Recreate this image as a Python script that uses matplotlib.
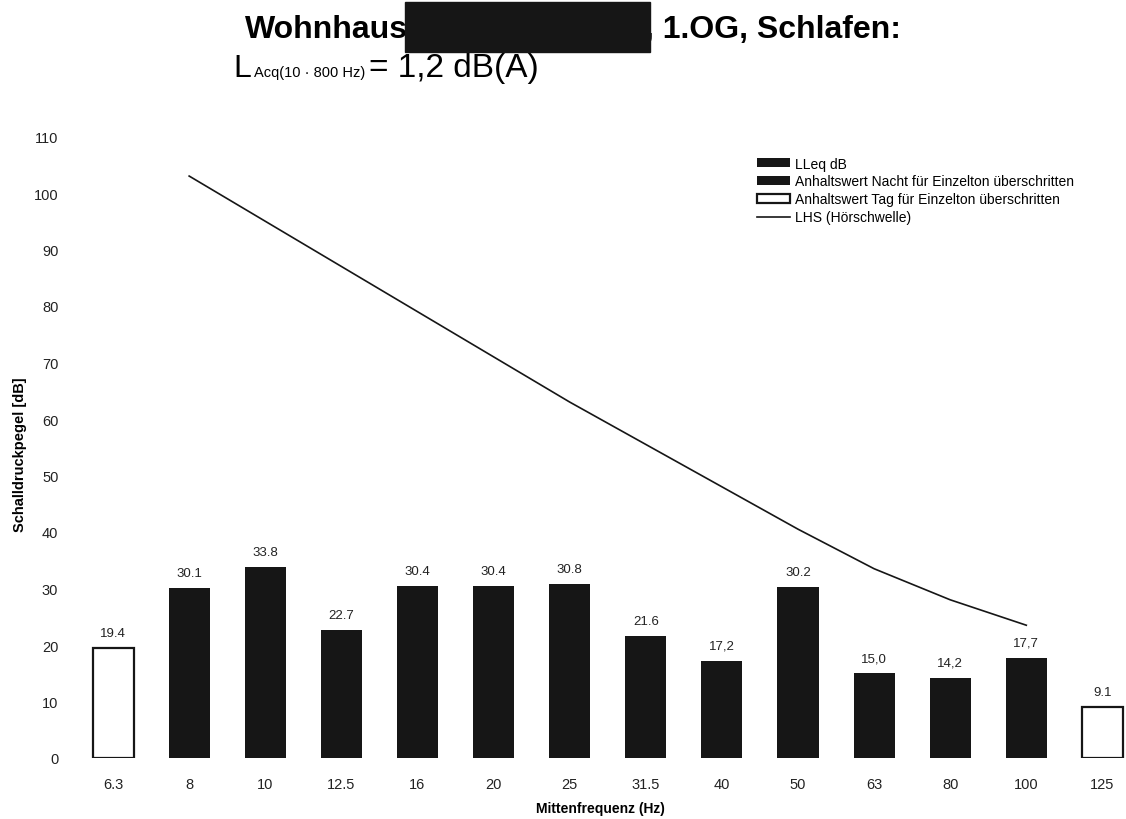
import numpy as np
import matplotlib
matplotlib.use("Agg")
import matplotlib.pyplot as plt
from matplotlib.patches import Rectangle

plt.rcParams["font.family"] = ["Liberation Sans", "DejaVu Sans"]

# data
freqs = ["6.3", "8", "10", "12.5", "16", "20", "25", "31.5", "40", "50", "63", "80", "100", "125"]
lleq = [19.4, 30.1, 33.8, 22.7, 30.4, 30.4, 30.8, 21.6, 17.2, 30.2, 15.0, 14.2, 17.7, 9.1]
bar_text = ["19.4", "30.1", "33.8", "22.7", "30.4", "30.4", "30.8", "21.6", "17,2", "30.2",
            "15,0", "14,2", "17,7", "9.1"]
# which bars exceed the night / day limit
nacht = [False, True, True, True, True, True, True, True, True, True, True, True, True, False]
tag = [True, False, False, False, False, False, False, False, False, False, False, False, False, True]
# hearing threshold LHS, 8 Hz .. 100 Hz
lhs_freqs = ["8", "10", "12.5", "16", "20", "25", "31.5", "40", "50", "63", "80", "100"]
lhs = [103, 95, 87, 79, 71, 63, 55.5, 48, 40.5, 33.5, 28, 23.5]

W, H = 1126, 820
fig = plt.figure(figsize=(W / 100, H / 100), dpi=100)
ax = fig.add_axes([75 / W, (H - 759) / H, 1051 / W, 621.5 / H])

x = np.arange(len(freqs))
vals = np.array(lleq)
bw = 0.54
b1 = ax.bar(x, vals, width=bw, color="#161616", label="LLeq dB", zorder=2)
b2 = ax.bar(x[nacht], vals[nacht], width=bw, color="#161616",
            label="Anhaltswert Nacht für Einzelton überschritten", zorder=3)
b3 = ax.bar(x[tag], vals[tag], width=bw, color="white", edgecolor="#161616", linewidth=1.6,
            label="Anhaltswert Tag für Einzelton überschritten", zorder=3)

lx = [freqs.index(f) for f in lhs_freqs]
l1, = ax.plot(lx, lhs, color="#161616", linewidth=1.2, label="LHS (Hörschwelle)", zorder=4)

for xi, v, t in zip(x, vals, bar_text):
    ax.text(xi, v + 1.6, t, ha="center", va="bottom", fontsize=9.5, color="#222222")

ax.set_xlim(-0.5, 13.31)
ax.set_ylim(0, 110)
ax.set_xticks(x)
ax.set_xticklabels(freqs)
ax.set_yticks(np.arange(0, 111, 10))
ax.tick_params(axis="both", length=0, labelsize=10.5, colors="#222222")
ax.tick_params(axis="y", pad=12)
ax.tick_params(axis="x", pad=14)
for s in ax.spines.values():
    s.set_visible(False)

ax.set_xlabel("Mittenfrequenz (Hz)", fontsize=10, fontweight="bold", labelpad=7)
fig.text(20 / W, 1 - 455 / H, "Schalldruckpegel [dB]", rotation=90, fontsize=10.5,
         fontweight="bold", ha="center", va="center")

ax.legend(handles=[b1, b2, b3, l1], loc="upper left",
          bbox_to_anchor=(751.5 / W, 1 - 152 / H),
          bbox_transform=fig.transFigure, frameon=False, fontsize=10,
          handlelength=2.37, handleheight=0.6, handletextpad=0.36,
          labelspacing=0.28, borderaxespad=0)

# title with blacked-out name
fig.text(245 / W, 1 - 38 / H, "Wohnhaus", fontsize=23, fontweight="bold",
         ha="left", va="baseline")
fig.text(645 / W, 1 - 38 / H, ", 1.OG, Schlafen:", fontsize=23, fontweight="bold",
         ha="left", va="baseline")
fig.patches.append(Rectangle((405 / W, 1 - 53 / H), 245 / W, 50 / H,
                             transform=fig.transFigure, color="#161616", zorder=5))

# subtitle L_Acq(10 - 800 Hz) = 1,2 dB(A)
fig.text(233 / W, 1 - 77 / H, "L", fontsize=23, ha="left", va="baseline")
fig.text(254 / W, 1 - 77 / H, "Acq(10 · 800 Hz)", fontsize=10.5, ha="left", va="baseline")
fig.text(369 / W, 1 - 77 / H, "= 1,2 dB(A)", fontsize=24, ha="left", va="baseline")

fig.savefig("out.png", dpi=100)
